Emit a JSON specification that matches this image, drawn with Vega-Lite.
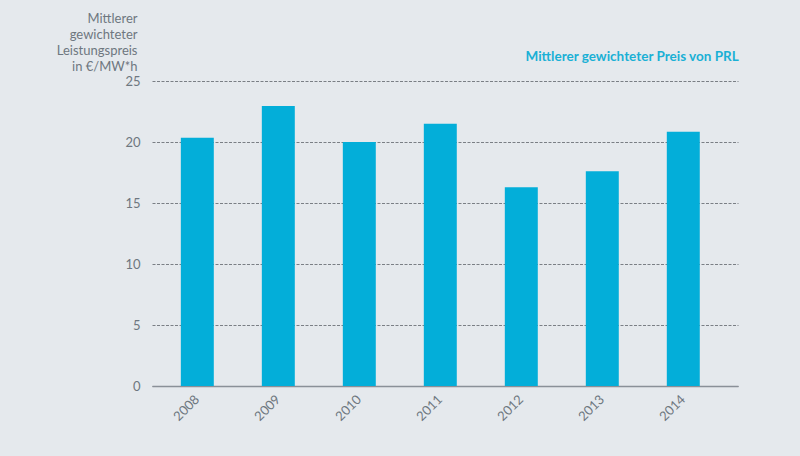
{
  "$schema": "https://vega.github.io/schema/vega-lite/v6.json",
  "autosize": "none",
  "width": 586,
  "height": 305,
  "padding": {"left": 152, "top": 81, "right": 62, "bottom": 70},
  "background": "#e5e9ed",
  "config": {
    "view": {"stroke": null},
    "font": "Lato",
    "axis": {"labelFont": "Lato", "titleFont": "Lato"}
  },
  "data": {
    "values": [
      {"year": "2008", "price": 20.35, "series": "Mittlerer gewichteter Preis von PRL"},
      {"year": "2009", "price": 22.95, "series": "Mittlerer gewichteter Preis von PRL"},
      {"year": "2010", "price": 20.0, "series": "Mittlerer gewichteter Preis von PRL"},
      {"year": "2011", "price": 21.5, "series": "Mittlerer gewichteter Preis von PRL"},
      {"year": "2012", "price": 16.3, "series": "Mittlerer gewichteter Preis von PRL"},
      {"year": "2013", "price": 17.6, "series": "Mittlerer gewichteter Preis von PRL"},
      {"year": "2014", "price": 20.85, "series": "Mittlerer gewichteter Preis von PRL"}
    ]
  },
  "mark": {"type": "bar"},
  "encoding": {
    "x": {
      "field": "year",
      "type": "nominal",
      "scale": {"paddingInner": 0.593, "paddingOuter": 0.414, "align": 0.43},
      "axis": {
        "title": null,
        "labelAngle": -45,
        "labelAlign": "right",
        "labelBaseline": "middle",
        "labelPadding": 11,
        "labelFontSize": 13,
        "labelColor": "#6e7780",
        "ticks": false,
        "domainColor": "#8a9098",
        "domainWidth": 1.5,
        "grid": false
      }
    },
    "y": {
      "field": "price",
      "type": "quantitative",
      "scale": {"domain": [0, 25]},
      "axis": {
        "values": [0, 5, 10, 15, 20, 25],
        "domain": false,
        "ticks": false,
        "labelPadding": 12,
        "labelFontSize": 13,
        "labelColor": "#6e7780",
        "grid": true,
        "gridColor": "#7a7f85",
        "gridDash": [3, 1.5],
        "gridWidth": 1,
        "title": ["Mittlerer", "gewichteter", "Leistungspreis", "in €/MW*h"],
        "titleAngle": 0,
        "titleAlign": "right",
        "titleBaseline": "top",
        "titleX": -15,
        "titleY": -69,
        "titleLineHeight": 16,
        "titleFontSize": 13,
        "titleFontWeight": "normal",
        "titleColor": "#6e7780"
      }
    },
    "color": {
      "field": "series",
      "type": "nominal",
      "scale": {"range": ["#03aed9"]},
      "legend": {
        "title": null,
        "orient": "none",
        "legendX": 360,
        "legendY": -31,
        "symbolSize": 0,
        "symbolStrokeWidth": 0,
        "labelOffset": 0,
        "labelFontSize": 13.5,
        "labelFontWeight": "bold",
        "labelColor": "#1ab0d5",
        "labelLimit": 400
      }
    }
  }
}
